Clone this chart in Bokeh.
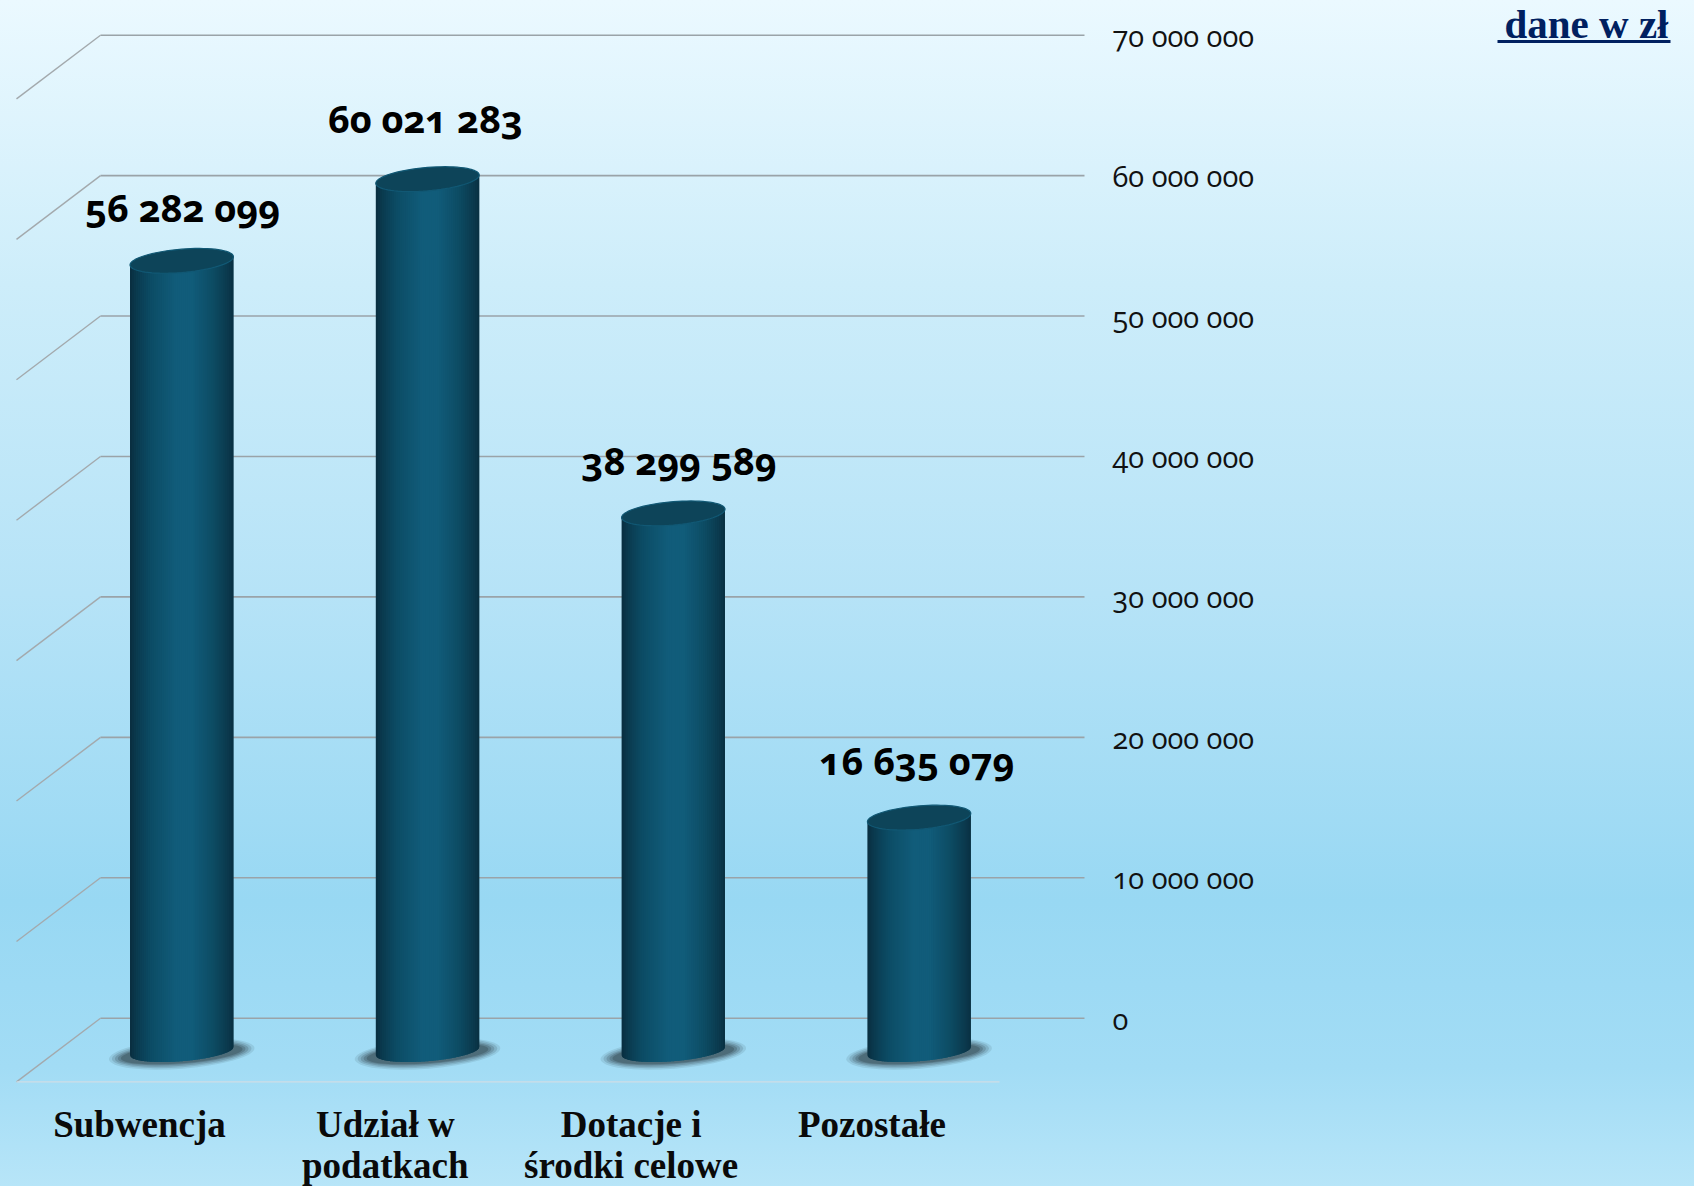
import math
from bokeh.plotting import figure
from bokeh.models import FixedTicker, LinearAxis
from bokeh.core.properties import value
from bokeh.embed import file_html
from bokeh.resources import INLINE

# ---------- data ----------
categories = ["Subwencja", "Udział w\npodatkach", "Dotacje i\nśrodki celowe", "Pozostałe"]
bar_heights = [56282099, 62100000, 38299589, 16635079]
bar_labels = ["56 282 099", "60 021 283", "38 299 589", "16 635 079"]
y_ticks = [0, 10000000, 20000000, 30000000, 40000000, 50000000, 60000000, 70000000]
y_tick_labels = ["0", "10 000 000", "20 000 000", "30 000 000", "40 000 000",
                 "50 000 000", "60 000 000", "70 000 000"]
unit_note = "dane w zł"

# ---------- layout (pixels) ----------
W, H = 1694, 1186
WALL_R = 1084
Y70, Y0 = 34.7, 1017.7
PPU = (Y0 - Y70) / 70e6
STEP = 245.8
X_FIRST = 139.0
DEPTH_X, DEPTH_Y = 84.0, 63.7
BAR_DX, BASE_DY = 42.2, 33.0
A, KA, B_TOP, B_BOT = 51.7, 4.15, 11.7, 10.0


def dx(px):
    return px / STEP


def dy(px):
    return px / PPU


def xp(px):
    return (px - X_FIRST) / STEP


def yp(px):
    return (Y0 - px) / PPU


p = figure(width=W, height=H, frame_width=W, frame_height=H,
           x_range=(xp(0), xp(W)), y_range=(yp(H), yp(0)),
           output_backend="svg", toolbar_location=None,
           min_border_left=0, min_border_top=0, min_border_right=0,
           min_border_bottom=0, x_axis_location=None, y_axis_location=None,
           styles={"position": "fixed", "left": "0", "top": "0",
                   "font-variant-numeric": "oldstyle-nums",
                   "background": "linear-gradient(180deg, #ebf9ff 0%, #cdedfa 24%, "
                                 "#b6e3f7 50%, #98d8f3 76%, #a2dcf5 90%, #b7e5f8 100%)"})
p.background_fill_alpha = 0
p.border_fill_alpha = 0
p.outline_line_alpha = 0
p.grid.visible = False

# ---------- axis ----------
yax = LinearAxis(ticker=FixedTicker(ticks=y_ticks), fixed_location=xp(WALL_R),
                 major_label_overrides=dict(zip(y_ticks, y_tick_labels)))
yax.axis_line_alpha = 0
yax.major_tick_line_alpha = 0
yax.minor_tick_line_alpha = 0
yax.major_tick_out = 0
yax.major_tick_in = 0
yax.major_label_standoff = 28
yax.major_label_text_font = "Open Sans"
yax.major_label_text_font_size = "29px"
yax.major_label_text_color = "#111111"
p.add_layout(yax, "right")

# ---------- walls and floor ----------
left = xp(100)
p.segment(x0=[left] * len(y_ticks), x1=[xp(WALL_R)] * len(y_ticks), y0=y_ticks, y1=y_ticks,
          line_color="#9aa3a8", line_width=1.6)
p.segment(x0=[left] * len(y_ticks), x1=[left - dx(DEPTH_X)] * len(y_ticks), y0=y_ticks,
          y1=[t - dy(DEPTH_Y) for t in y_ticks], line_color="#a3a9ad", line_width=1.4)
p.segment(x0=[xp(16)], x1=[xp(999)], y0=[-dy(DEPTH_Y)], y1=[-dy(DEPTH_Y)],
          line_color="#cfdde6", line_width=1.3)

# ---------- cylinders ----------
stops = [(0.0, (9, 45, 62)), (0.06, (10, 58, 78)), (0.2, (12, 76, 101)), (0.45, (17, 92, 122)),
         (0.6, (17, 92, 122)), (0.8, (13, 76, 100)), (0.94, (11, 58, 78)), (1.0, (9, 48, 66))]


def shade(t):
    for (t0, c0), (t1, c1) in zip(stops, stops[1:]):
        if t <= t1:
            f = (t - t0) / (t1 - t0)
            r = [round(a + (b - a) * f) for a, b in zip(c0, c1)]
            return "#%02x%02x%02x" % tuple(r)
    return "#%02x%02x%02x" % stops[-1][1]


def arc(u, b):
    # offset in pixels (downwards) of the front rim at horizontal position u in [-1, 1]
    return -KA * u + b * math.sqrt(max(0.0, 1 - u * u))


N = 52
for i, h in enumerate(bar_heights):
    cx = i + dx(BAR_DX)
    base = -dy(BASE_DY)
    top = base + h

    # soft shadow on the floor
    for w, ht, a in [(146, 30, .10), (140, 27, .14), (134, 24, .18), (128, 21, .22), (122, 19, .26)]:
        p.ellipse(x=[cx], y=[-dy(BASE_DY + 2.5)], width=w, height=ht, angle=math.atan(8 / 103),
                  width_units="screen", height_units="screen",
                  fill_color="#1f2d33", fill_alpha=a, line_alpha=0)

    xs, ys, cols = [], [], []
    for k in range(N):
        u0 = -1 + 2 * k / N
        u1 = min(1.0, -1 + 2 * (k + 2) / N)   # overlaps the next strip, which paints over it
        us = [u0 + (u1 - u0) * j / 6 for j in range(7)]
        px = [cx + dx(A * u) for u in us]
        xs.append(px + px[::-1])
        ys.append([top + dy(KA * u) for u in us] + [base - dy(arc(u, B_BOT)) for u in us[::-1]])
        cols.append(shade((k + 0.5) / N))
    p.patches(xs, ys, fill_color=cols, line_alpha=0)

    # top cap
    ts = [2 * math.pi * j / 72 for j in range(72)]
    cap_x = [cx + dx(A * math.cos(t)) for t in ts]
    cap_y = [top - dy(-KA * math.cos(t) + B_TOP * math.sin(t)) for t in ts]
    p.patch(cap_x, cap_y, fill_color="#0d4459", line_color="#115874", line_width=1.2)

# ---------- value labels ----------
label_x_shift = [0, -3, 5, -3]
label_y_shift = [-54, -61, -53, -58]
p.text(x=[i + dx(BAR_DX) for i in range(4)],
       y=[-dy(BASE_DY) + h for h in bar_heights],
       text=bar_labels, x_offset=label_x_shift, y_offset=label_y_shift,
       text_font=value("Open Sans"), text_font_style="bold", text_font_size="38px",
       text_color="#000000", text_align="center", text_baseline="middle")

# ---------- category labels (one text per line) ----------
cat_x_shift = [0, 0, 0, -5]
for line, line_y in enumerate([1124, 1165]):
    idx = [i for i, c in enumerate(categories) if len(c.split("\n")) > line]
    p.text(x=idx, y=[yp(line_y)] * len(idx), text=[categories[i].split("\n")[line] for i in idx],
           x_offset=[cat_x_shift[i] for i in idx],
           text_font=value("Liberation Serif"), text_font_style="bold", text_font_size="37px",
           text_color="#0a0a0a", text_align="center", text_baseline="alphabetic")

# ---------- unit note ----------
p.text(x=[xp(1668)], y=[yp(23)], text=[unit_note], text_font=value("Liberation Serif"),
       text_font_style="bold", text_font_size="41px", text_color="#002060",
       text_align="right", text_baseline="alphabetic")
p.segment(x0=[xp(1497)], x1=[xp(1670)], y0=[yp(41)], y1=[yp(41)],
          line_color="#002060", line_width=2.8)

open("out.html", "w").write(file_html(p, INLINE))
